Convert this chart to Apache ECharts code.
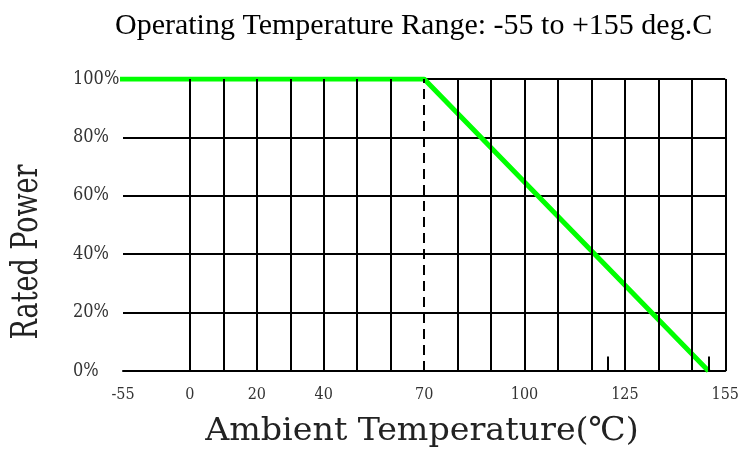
<!DOCTYPE html>
<html>
<head>
<meta charset="utf-8">
<script src="https://cdn.jsdelivr.net/npm/echarts@6/dist/echarts.min.js"></script>
<style>
  html, body { margin: 0; padding: 0; background: #fff; }
  #chart { width: 742px; height: 452px; }
</style>
</head>
<body>
<div id="chart"></div>
<script>
// Derating curve (temperature in deg.C, rated power in %)
const curveTemps = [-55, 70, 155];
const curvePower = [100, 100, 0];

// The axis is broken on the left: its left edge is labelled -55
const xTickPositions = [-20, 0, 20, 40, 70, 100, 130, 160];
const xTickLabels = ['-55', '0', '20', '40', '70', '100', '125', '155'];

// Vertical grid lines
const solidGridTemps = [0, 10, 20, 30, 40, 50, 60, 80, 90, 100, 110, 120, 130, 140, 150, 160];
const dashedGridTemps = [70];

// Short marks on the bottom edge
const markTemps = [125, 155];
const markHeight = 5;

const textFont = '"DejaVu Serif Condensed", "DejaVu Serif", serif';
const textColor = '#222';

const chart = echarts.init(document.getElementById('chart'));

const markLineData = [];
solidGridTemps.forEach(t => {
    markLineData.push({ xAxis: t, lineStyle: { color: '#000', width: 2, type: 'solid' } });
});
dashedGridTemps.forEach(t => {
    markLineData.push({ xAxis: t, lineStyle: { color: '#000', width: 2, type: [10, 6] } });
});
markTemps.forEach(t => {
    markLineData.push([
        { coord: [t, 0], lineStyle: { color: '#000', width: 2, type: 'solid' } },
        { coord: [t, markHeight] }
    ]);
});

chart.setOption({
    animation: false,
    title: {
        text: 'Operating Temperature Range: -55 to +155 deg.C',
        left: 110,
        top: 6,
        textStyle: {
            fontFamily: 'Liberation Serif',
            fontSize: 30,
            fontWeight: 'normal',
            color: '#000'
        }
    },
    grid: { left: 123, right: 13, top: 79, bottom: 81 },
    xAxis: {
        type: 'value',
        min: -20,
        max: 160,
        interval: 10,
        axisLine: { show: true, lineStyle: { color: '#000', width: 2 } },
        axisTick: { show: false },
        splitLine: { show: false },
        axisLabel: {
            customValues: xTickPositions,
            formatter: v => xTickLabels[xTickPositions.indexOf(v)] ?? '',
            margin: 16,
            fontFamily: textFont,
            fontSize: 16,
            color: '#333'
        }
    },
    yAxis: {
        type: 'value',
        min: 0,
        max: 100,
        interval: 20,
        axisLine: { show: true, lineStyle: { color: '#000', width: 2, type: [11, 6] } },
        axisTick: { show: false },
        splitLine: { show: true, lineStyle: { color: '#000', width: 2 } },
        axisLabel: {
            formatter: '{value}%',
            align: 'left',
            margin: 50,
            padding: [0, 0, 11, 0],
            showMinLabel: true,
            showMaxLabel: true,
            fontFamily: textFont,
            fontSize: 18,
            color: '#333'
        }
    },
    graphic: [
        {
            type: 'text',
            x: 27,
            y: 252,
            rotation: Math.PI / 2,
            scaleY: 1.25,
            style: {
                text: 'Rated Power',
                font: '30px "DejaVu Serif Condensed", "DejaVu Serif", serif',
                fill: textColor,
                textAlign: 'center',
                textVerticalAlign: 'middle'
            }
        },
        {
            type: 'text',
            x: 422,
            y: 432,
            scaleY: 0.88,
            style: {
                text: 'Ambient Temperature(℃)',
                font: '37px "DejaVu Serif Condensed", "DejaVu Serif", serif',
                fill: textColor,
                textAlign: 'center',
                textVerticalAlign: 'middle'
            }
        }
    ],
    series: [
        {
            name: 'grid',
            type: 'line',
            data: [],
            z: 1,
            silent: true,
            markLine: {
                silent: true,
                symbol: 'none',
                label: { show: false },
                animation: false,
                data: markLineData
            }
        },
        {
            name: 'Rated Power',
            type: 'line',
            z: 3,
            symbol: 'none',
            clip: true,
            data: curveTemps.map((t, i) => [t, curvePower[i]]),
            lineStyle: { color: '#00ff00', width: 5 }
        }
    ]
});
</script>
</body>
</html>
